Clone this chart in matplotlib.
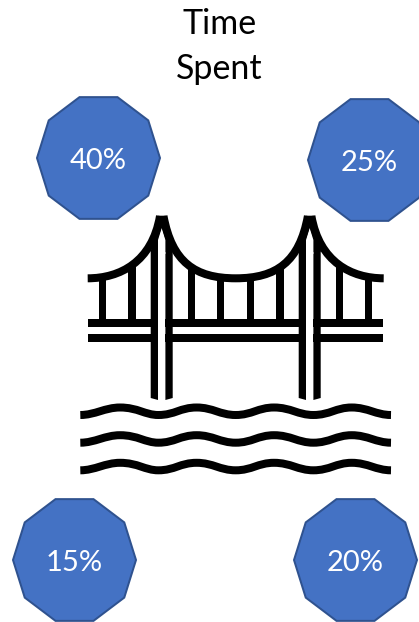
import numpy as np
import matplotlib
matplotlib.use('Agg')
import matplotlib.pyplot as plt
from matplotlib.patches import Polygon, PathPatch, Rectangle
from matplotlib.path import Path

# shares of time, one per decagon
share_values = [40, 25, 15, 20]
title_lines = ['Time', 'Spent']

# layout, in pixels from the top left
centers_x = [98.5, 369.5, 74.5, 355.5]
centers_y = [158, 160, 560, 560]
label_y = [161, 163, 563, 563]

BLUE = '#4472C4'
EDGE = '#2F528F'
BLACK = '#000000'
PX = 72 / 100  # points per pixel at dpi 100

plt.rcParams['font.family'] = ['Lato', 'DejaVu Sans']

fig = plt.figure(figsize=(4.19, 6.22), dpi=100)
ax = fig.add_axes([0, 0, 1, 1])
ax.set_xlim(0, 419)
ax.set_ylim(622, 0)
ax.axis('off')


def curve(points, lw=8.0):
    codes = [Path.MOVETO] + [Path.CURVE4] * (len(points) - 1)
    ax.add_patch(PathPatch(Path(points, codes), fc='none', ec=BLACK, lw=lw * PX,
                           capstyle='butt', joinstyle='round'))


def bar(x0, x1, y0, y1, color=BLACK):
    ax.add_patch(Rectangle((x0, y0), x1 - x0, y1 - y0, fc=color, ec='none'))


def bezier_y(points, x):
    # height of one cubic segment at a given x
    p = np.array(points)
    t = np.linspace(0, 1, 400)[:, None]
    xy = (1 - t) ** 3 * p[0] + 3 * (1 - t) ** 2 * t * p[1] + 3 * (1 - t) * t ** 2 * p[2] + t ** 3 * p[3]
    order = np.argsort(xy[:, 0])
    return np.interp(x, xy[order, 0], xy[order, 1])


# cable segments
cable_a = [(87.7, 278.3), (120, 278.3), (152, 262), (160, 216)]
cable_b = [(163.5, 216), (172, 262), (195, 278.3), (235.7, 278.3)]
cable_c = [(235.7, 278.3), (276.4, 278.3), (299.4, 262), (307.9, 216)]
cable_d = [(311.4, 216), (319.4, 262), (351.4, 278.3), (383.7, 278.3)]

# hangers run from the cable down to the deck
hanger_x = [102.5, 132, 191.5, 220.8, 250.5, 280, 339.5, 368.7]
hanger_seg = [cable_a, cable_a, cable_b, cable_b, cable_c, cable_c, cable_d, cable_d]
for hx, seg in zip(hanger_x, hanger_seg):
    bar(hx - 3.6, hx + 3.6, bezier_y(seg, hx), 322)

# deck
bar(87.7, 383.3, 319.3, 326.7)
bar(87.7, 383.3, 334.3, 341.7)

# towers: two legs with a white slot, closed to a point at the top
for tx in [161.7, 309.7]:
    bar(tx - 3.7, tx + 3.7, 232, 401, color='white')
    ax.add_patch(Polygon([(tx - 11, 250), (tx - 3.7, 250), (tx - 3.7, 400), (tx - 11, 398)],
                         fc=BLACK, ec='none'))
    ax.add_patch(Polygon([(tx + 3.7, 250), (tx + 11, 250), (tx + 11, 398), (tx + 3.7, 400)],
                         fc=BLACK, ec='none'))
    ax.add_patch(Polygon([(tx - 4, 215.7), (tx + 4, 215.7), (tx + 11, 252), (tx - 11, 252)],
                         fc=BLACK, ec='none'))
    ax.add_patch(Polygon([(tx, 228), (tx + 3.7, 240), (tx + 3.7, 254), (tx - 3.7, 254), (tx - 3.7, 240)],
                         fc='white', ec='none'))

# cables, the middle span as one stroke
curve(cable_a)
curve(cable_b + cable_c[1:])
curve(cable_d)

# water
for wy in [415, 442.7, 470.3]:
    curve([(80.3, wy), (95, wy), (105, wy - 7.5), (120, wy - 7.5),
           (138, wy - 7.5), (145, wy), (158.3, wy),
           (175, wy), (180, wy - 7.5), (196.7, wy - 7.5),
           (213, wy - 7.5), (220, wy), (235.7, wy),
           (252, wy), (258, wy - 7.5), (274, wy - 7.5),
           (291, wy - 7.5), (298, wy), (313.3, wy),
           (330, wy), (336, wy - 7.5), (351.7, wy - 7.5),
           (368, wy - 7.5), (376, wy), (391, wy)])

# decagons with the shares
angles = np.deg2rad(np.arange(0, 360, 36))
for value, cx, cy, ly in zip(share_values, centers_x, centers_y, label_y):
    verts = np.column_stack([cx + 61.5 * np.cos(angles), cy + 64 * np.sin(angles)])
    ax.add_patch(Polygon(verts, closed=True, fc=BLUE, ec=EDGE, lw=2 * PX, joinstyle='miter',
                         clip_on=True, zorder=3))
    ax.text(cx, ly, f'{value}%', color='white', fontsize=21, ha='center', va='center', zorder=4)

# title
ax.text(219.5, 24, title_lines[0], color='black', fontsize=24.5, ha='center', va='center')
ax.text(219.5, 69, title_lines[1], color='black', fontsize=24.5, ha='center', va='center')

fig.savefig('out.png', dpi=100, facecolor='white')
